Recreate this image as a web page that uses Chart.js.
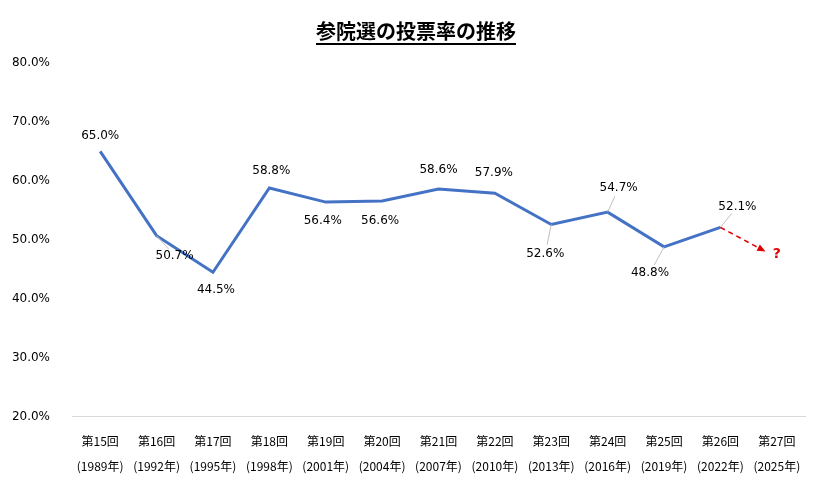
<!DOCTYPE html>
<html><head><meta charset="utf-8">
<script src="https://cdn.jsdelivr.net/npm/chart.js@4"></script>
<style>html,body{margin:0;background:#fff}#w{width:832px;height:491px}</style>
</head><body><div id="w"><canvas id="c"></canvas></div>
<script>
const sessions=['第15回','第16回','第17回','第18回','第19回','第20回','第21回','第22回','第23回','第24回','第25回','第26回','第27回'];
const years=['(1989年)','(1992年)','(1995年)','(1998年)','(2001年)','(2004年)','(2007年)','(2010年)','(2013年)','(2016年)','(2019年)','(2022年)','(2025年)'];
const turnout=[65.0,50.7,44.5,58.8,56.4,56.6,58.6,57.9,52.6,54.7,48.8,52.1,null];
const forecastFrom=[11,52.1];
const forecastTo=[11.8,48.0];
const yTicks=[20,30,40,50,60,70,80];
const labelOffsets=[[0,-16],[18,20],[3,18],[2,-17],[-3,19],[-2,20],[0,-19],[-1,-20],[-6,29],[11,-24],[-14,26],[17,-21]];
const fontJ='"Noto Sans CJK JP","Noto Sans",sans-serif';
const deco={id:'deco',afterDatasetsDraw(ch){
  const c=ch.ctx,x=ch.scales.x,y=ch.scales.y;
  c.save();
  c.font='bold 20px '+fontJ;c.fillStyle='#000';c.textAlign='center';c.textBaseline='middle';
  const t='参院選の投票率の推移';c.fillText(t,416,31);
  const w=c.measureText(t).width;c.fillRect(416-w/2,43,w,2);
  c.font='12px "DejaVu Sans",sans-serif';
  turnout.forEach((v,i)=>{if(v==null)return;
    const px=x.getPixelForValue(i),py=y.getPixelForValue(v);
    const [dx,dy]=labelOffsets[i];
    c.strokeStyle='#bfbfbf';c.lineWidth=1;
    if(Math.abs(dx)>8||Math.abs(dy)>20){const len=Math.hypot(dx,dy),k=(len-9)/len;c.beginPath();c.moveTo(px,py);c.lineTo(px+dx*k,py+dy*k);c.stroke();}
    c.fillStyle='#000';c.fillText(v.toFixed(1)+'%',px+dx,py+dy);
  });
  const ax=x.getPixelForValue(forecastFrom[0]),ay=y.getPixelForValue(forecastFrom[1]);
  const bx=x.getPixelForValue(forecastTo[0]),by=y.getPixelForValue(forecastTo[1]);
  const ang=Math.atan2(by-ay,bx-ax);
  const ex=bx-7*Math.cos(ang),ey=by-7*Math.sin(ang);
  c.strokeStyle='#e00000';c.lineWidth=1.5;c.setLineDash([5,4]);
  c.beginPath();c.moveTo(ax,ay);c.lineTo(ex,ey);c.stroke();c.setLineDash([]);
  c.fillStyle='#e00000';c.beginPath();c.moveTo(bx,by);
  c.lineTo(bx-9*Math.cos(ang-0.4),by-9*Math.sin(ang-0.4));
  c.lineTo(bx-9*Math.cos(ang+0.4),by-9*Math.sin(ang+0.4));c.closePath();c.fill();
  c.font='bold 14px "DejaVu Sans",sans-serif';c.fillText('?',x.getPixelForValue(12),by+3);
  c.restore();
}};
new Chart(document.getElementById('c'),{type:'line',
 data:{labels:sessions.map((s,i)=>[s,years[i]]),datasets:[
  {data:turnout,borderColor:'#4472C4',borderWidth:3,pointRadius:0,tension:0}]},
 plugins:[deco],
 options:{responsive:true,maintainAspectRatio:false,animation:false,
  layout:{padding:{top:63,left:0,right:27,bottom:8}},
  plugins:{legend:{display:false},tooltip:{enabled:false}},
  scales:{
   y:{min:20,max:80,afterBuildTicks:s=>{s.ticks=yTicks.map(v=>({value:v}));},
      afterFit:s=>{s.width=72;},
      grid:{display:false},border:{display:false},
      ticks:{callback:v=>v.toFixed(1)+'%',color:'#000',font:{size:12,family:'"DejaVu Sans",sans-serif'},padding:14}},
   x:{grid:{display:false},border:{color:'#d9d9d9'},offset:true,
      ticks:{color:'#000',autoSkip:false,maxRotation:0,font:{size:12,family:fontJ,lineHeight:2.1},padding:4}}
  }}});
</script></body></html>
